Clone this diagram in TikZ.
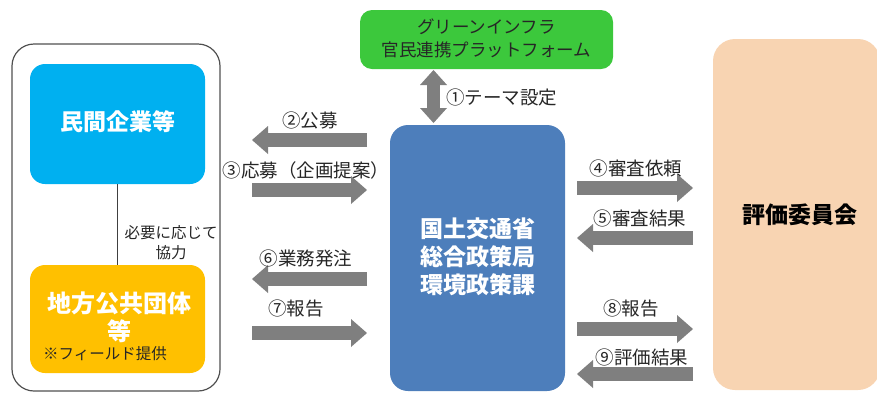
\documentclass[tikz,border=0pt]{standalone}
\usepackage{fontspec}
\setmainfont{Noto Sans CJK JP}
\usetikzlibrary{arrows.meta}
\definecolor{cyanbox}{HTML}{00B0F0}
\definecolor{yellowbox}{HTML}{FFC000}
\definecolor{bluebox}{HTML}{4D7EBB}
\definecolor{greenbox}{HTML}{3CC83C}
\definecolor{peachbox}{HTML}{F8D4B2}
\definecolor{arrowgray}{HTML}{7F7F7F}
\definecolor{framegray}{HTML}{505050}
\definecolor{textdark}{HTML}{262626}
\tikzset{
  box/.style={rounded corners=15pt, inner sep=0pt, align=center},
  title/.style={text=white, font=\fontsize{23}{28}\selectfont\bfseries, align=center, inner sep=0pt},
  lbl/.style={text=textdark, font=\fontsize{18.5}{20}\selectfont, inner sep=0pt},
  small/.style={text=textdark, font=\fontsize{15.5}{20}\selectfont, inner sep=0pt, align=center},
  blockarrow/.style={draw=arrowgray, line width=14pt,
    -{Triangle[length=16pt,width=28pt,line width=0pt]}},
  dblarrow/.style={draw=arrowgray, line width=13pt,
    {Triangle[length=15pt,width=27pt,line width=0pt]}-{Triangle[length=15pt,width=27pt,line width=0pt]}}
}
\begin{document}
\begin{tikzpicture}[x=1pt,y=-1pt]
\useasboundingbox (0,0) rectangle (877,392);
% boxes
\node[draw=framegray, line width=1.2pt, rounded corners=22pt, minimum width=208pt, minimum height=347pt] (grp) at (116,217.5) {};
\node[box, fill=cyanbox, minimum width=175pt, minimum height=120pt] (min) at (117.5,124) {};
\node[title] (mint) at (117.5,122) {民間企業等};
\node[box, fill=yellowbox, minimum width=175pt, minimum height=108pt] (loc) at (117.5,319) {};
\node[title, font=\fontsize{24}{28}\selectfont\bfseries] (loct) at (119,317) {地方公共団体\\等};
\node[small, anchor=west] (field) at (43,354) {※フィールド提供};
\draw[draw=framegray!80!black, line width=1.8pt] (min.south) -- (loc.north);
\node[small, font=\fontsize{15.5}{20}\selectfont] (coop) at (171,243) {必要に応じて\\協力};

\node[box, fill=greenbox, rounded corners=12pt, minimum width=253pt, minimum height=59pt] (plat) at (486.5,39.5) {};
\node[lbl, align=center, font=\fontsize{17.5}{23}\selectfont] (platt) at (486.5,38.5) {グリーンインフラ\\官民連携プラットフォーム};

\node[box, fill=bluebox, rounded corners=18pt, minimum width=175pt, minimum height=266pt] (mlit) at (477.5,258) {};
\node[title, font=\fontsize{23}{28}\selectfont\bfseries] (mlitt) at (477.5,257) {国土交通省\\総合政策局\\環境政策課};

\node[box, fill=peachbox, rounded corners=22pt, minimum width=167pt, minimum height=351pt] (cmt) at (796.5,214.5) {};
\node[title, text=black] (cmtt) at (800,215) {評価委員会};

% theme arrow
\coordinate (t1) at (433.5,70);
\coordinate (t2) at (433.5,123);
\draw[dblarrow] (t1) -- (t2);
\node[lbl, anchor=west] (l1) at (446,97) {①テーマ設定};

% left arrows
\coordinate (L2a) at (367,140); \coordinate (L2b) at (252,140);
\coordinate (L3a) at (252,190); \coordinate (L3b) at (367,190);
\coordinate (L6a) at (367,279); \coordinate (L6b) at (252,279);
\coordinate (L7a) at (252,333); \coordinate (L7b) at (367,333);
\draw[blockarrow] (L2a) -- (L2b);
\draw[blockarrow] (L3a) -- (L3b);
\draw[blockarrow] (L6a) -- (L6b);
\draw[blockarrow] (L7a) -- (L7b);
\node[lbl] (l2) at (310,120) {②公募};
\node[lbl] (l3) at (306,170) {③応募（企画提案）};
\node[lbl] (l6) at (306,258) {⑥業務発注};
\node[lbl] (l7) at (296,308) {⑦報告};

% right arrows
\coordinate (R4a) at (577,188); \coordinate (R4b) at (693,188);
\coordinate (R5a) at (693,238); \coordinate (R5b) at (577,238);
\coordinate (R8a) at (577,329); \coordinate (R8b) at (693,329);
\coordinate (R9a) at (693,374); \coordinate (R9b) at (577,374);
\draw[blockarrow] (R4a) -- (R4b);
\draw[blockarrow] (R5a) -- (R5b);
\draw[blockarrow] (R8a) -- (R8b);
\draw[blockarrow] (R9a) -- (R9b);
\node[lbl] (l4) at (636,168) {④審査依頼};
\node[lbl] (l5) at (640,218) {⑤審査結果};
\node[lbl] (l8) at (631,308) {⑧報告};
\node[lbl] (l9) at (642,357) {⑨評価結果};
\end{tikzpicture}
\end{document}
